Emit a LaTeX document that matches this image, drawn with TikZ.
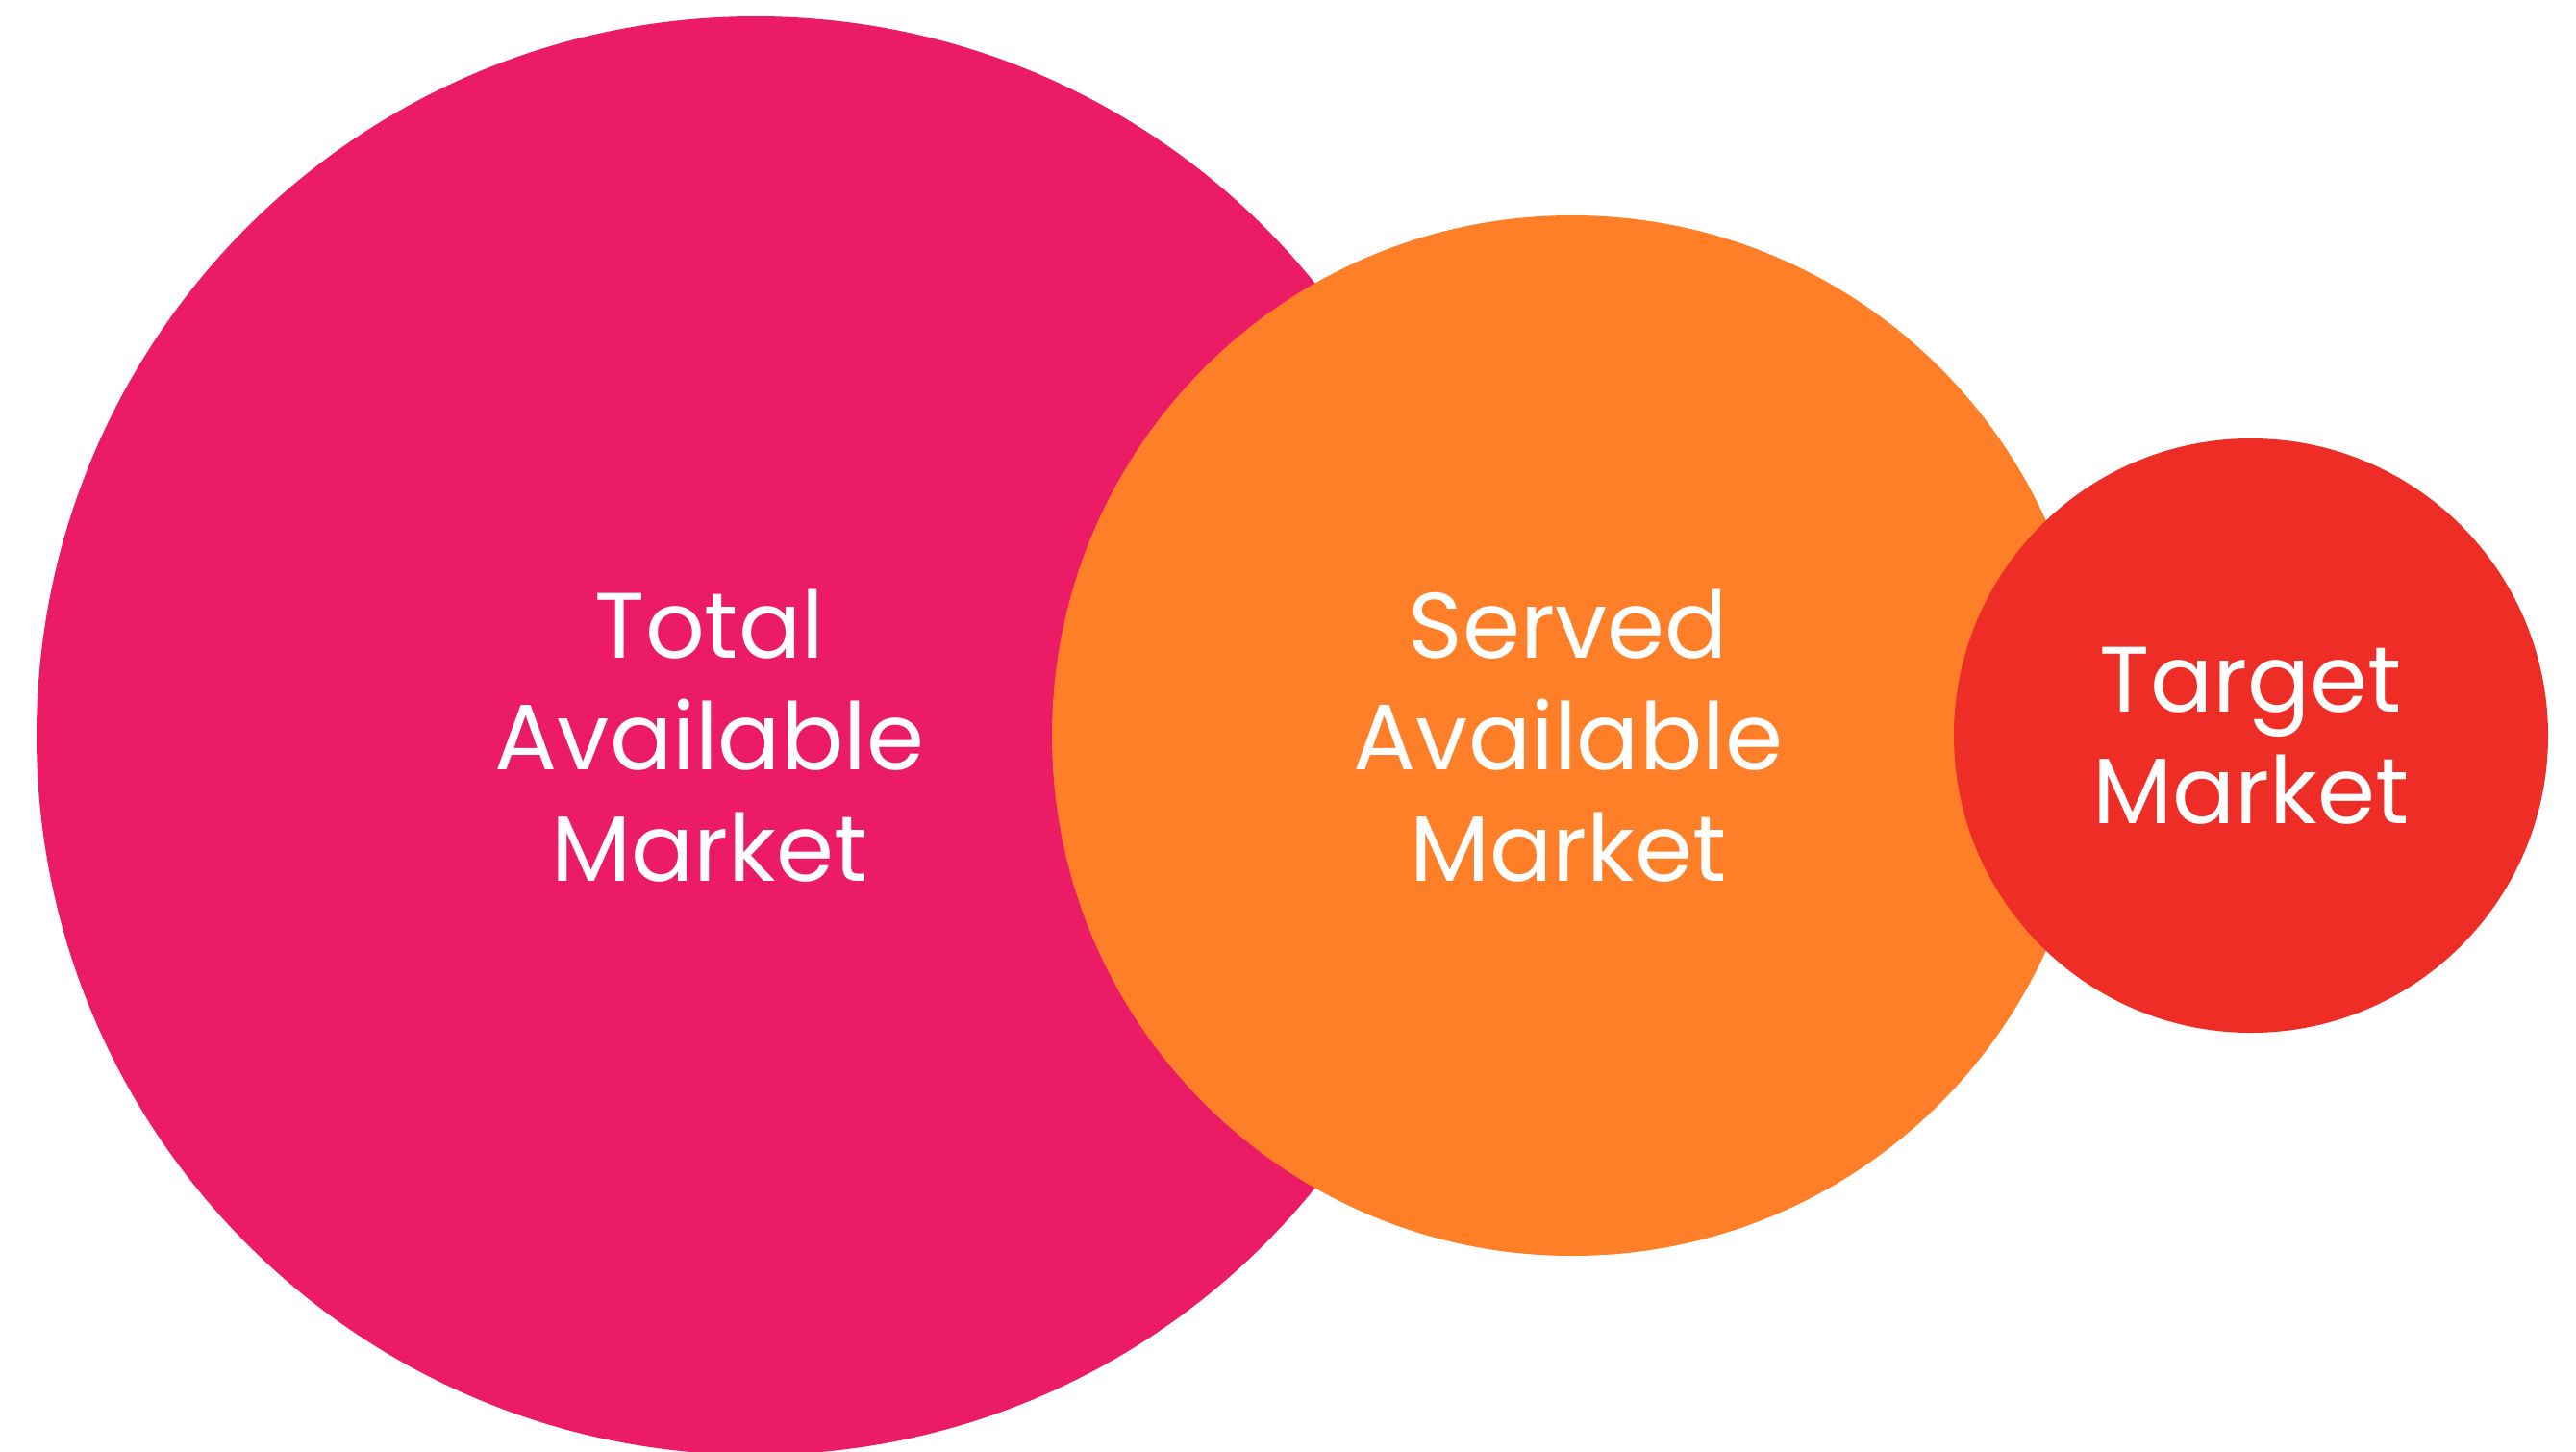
\documentclass[tikz,border=0pt]{standalone}
\usepackage{fontspec}
\setmainfont{Poppins}
\usepackage{xcolor}
\usetikzlibrary{positioning}
\definecolor{tampink}{HTML}{EC1B65}
\definecolor{samorange}{HTML}{FF7F28}
\definecolor{tmred}{HTML}{EE2E26}

\begin{document}
\begin{tikzpicture}[every node/.style={inner sep=0pt,outer sep=0pt},
      market/.style={circle,draw=none},
      label/.style={align=center,text=white,font=\fontsize{27.5}{33}\selectfont}]
      \useasboundingbox (0,0) rectangle (26.79,-15.10);
      % the three markets, each one sitting on top of the last
      \node[market,fill=tampink,minimum size=14.96cm] (tam) at (7.86,-7.65) {};
      \node[market,fill=samorange,minimum size=10.82cm] (sam) at (16.35,-7.65) {};
      \node[market,fill=tmred,minimum size=6.18cm] (tm) at (23.41,-7.65) {};
      \node[label] (tamtext) at ([xshift=-.48cm]tam.center) {Total\\Available\\Market};
      \node[label] (samtext) at ([xshift=-.04cm]sam.center) {Served\\Available\\Market};
      \node[label] (tmtext) at (tm.center) {Target\\Market};
    \end{tikzpicture}
\end{document}
